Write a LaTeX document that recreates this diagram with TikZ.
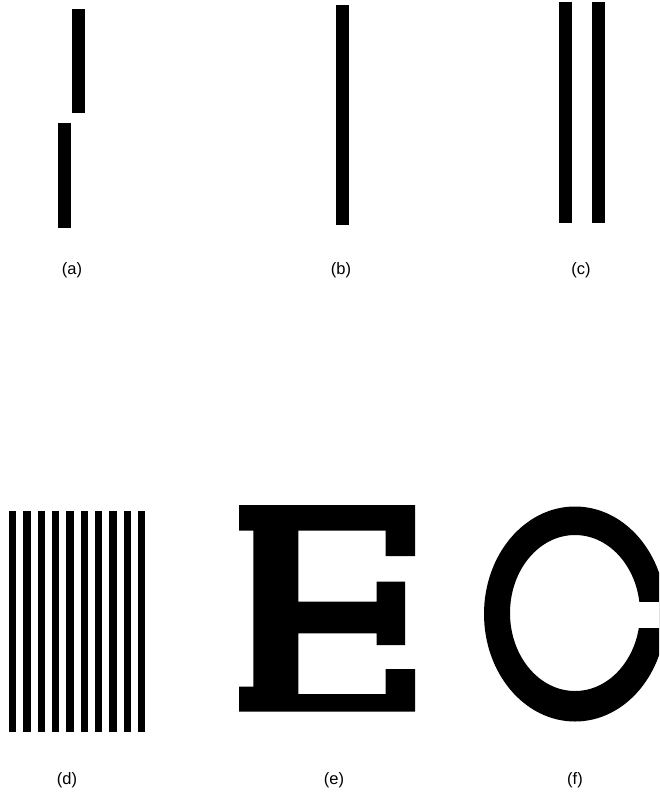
\documentclass[tikz,border=0pt]{standalone}
\usepackage{fontspec}
\setmainfont{Liberation Sans}
\begin{document}
\begin{tikzpicture}[x=1pt,y=-1pt,
  bar/.style={fill=black,draw=none},
  lbl/.style={font=\fontsize{16.5}{19}\selectfont,inner sep=0pt}]
\fill[white] (0,0) rectangle (659,795);
\useasboundingbox (0,0) rectangle (659,795);
% (a)
\fill[bar] (72,8.5) rectangle (85,113);
\fill[bar] (57.5,122.5) rectangle (70.5,228);
\node[lbl] (la) at (72,270) {(a)};
% (b)
\fill[bar] (335.5,5) rectangle (348.5,224.5);
\node[lbl] (lb) at (341,270) {(b)};
% (c)
\fill[bar] (559,2) rectangle (572,222.5);
\fill[bar] (592,2) rectangle (605,222.5);
\node[lbl] (lc) at (581,270) {(c)};
% (d)
\foreach \i in {0,...,9}{
  \fill[bar] ({9+14.33*\i},510.5) rectangle ({16.3+14.33*\i},732);
}
\node[lbl] (ld) at (67,780) {(d)};
% (e)
\fill[black] (239,505) -- (415,505) -- (415,556) -- (385.7,556) -- (385.7,530.7)
  -- (298.3,530.7) -- (298.3,601.7) -- (376.7,601.7) -- (376.7,581.7) -- (405,581.7)
  -- (405,645) -- (376.7,645) -- (376.7,633.3) -- (298.3,633.3) -- (298.3,694)
  -- (385.7,694) -- (385.7,669) -- (415,669) -- (415,711.7) -- (239,711.7)
  -- (239,686.7) -- (253.3,686.7) -- (253.3,530.7) -- (239,530.7) -- cycle;
\node[lbl] (le) at (334,780) {(e)};
% (f)
\begin{scope}
\clip (0,0) rectangle (659,795);
\fill[black,even odd rule] (575,614) ellipse [x radius=91, y radius=107.5]
  (575,613) ellipse [x radius=65, y radius=78];
\fill[white] (620,601.7) rectangle (670,627.8);
\end{scope}
\node[lbl] (lf) at (575,780) {(f)};
\end{tikzpicture}
\end{document}
